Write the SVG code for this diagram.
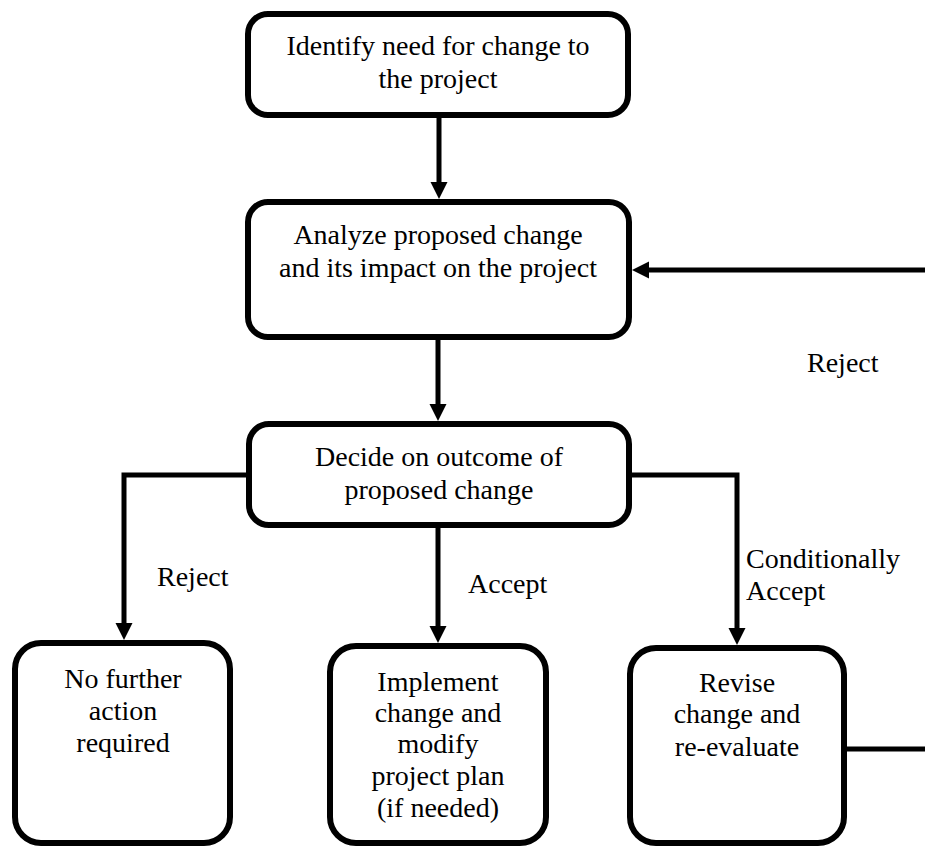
<svg xmlns="http://www.w3.org/2000/svg" width="925" height="847" viewBox="0 0 925 847">
  <style>
    .box { fill: #fff; stroke: #000; stroke-width: 6; }
    .lbl { font-family: "Liberation Serif", "Times New Roman", serif; font-size: 28px; fill: #000; }
    .mid { text-anchor: middle; }
    .wire { fill: none; stroke: #000; stroke-width: 5; }
  </style>
  <defs>
    <marker id="arrow" markerUnits="userSpaceOnUse" markerWidth="18" markerHeight="18" refX="9" refY="8.5" orient="auto">
      <path d="M0,0 L17,8.5 L0,17 z" fill="#000"/>
    </marker>
  </defs>
  <rect width="925" height="847" fill="#fff"/>

  <g id="connectors">
    <path class="wire" d="M439,118 V191" marker-end="url(#arrow)"/>
    <path class="wire" d="M438,340 V413" marker-end="url(#arrow)"/>
    <path class="wire" d="M246,475 H124 V632" marker-end="url(#arrow)"/>
    <path class="wire" d="M438,528 V635" marker-end="url(#arrow)"/>
    <path class="wire" d="M632,475 H737 V637" marker-end="url(#arrow)"/>
    <path class="wire" d="M847,749 H945 V270 H640" marker-end="url(#arrow)"/>
    <text class="lbl" x="157" y="586">Reject</text>
    <text class="lbl" x="468" y="593">Accept</text>
    <text class="lbl" x="746" y="568">Conditionally</text>
    <text class="lbl" x="746" y="600">Accept</text>
    <text class="lbl" x="807" y="372">Reject</text>
  </g>

  <g id="identify">
    <rect class="box" x="248" y="14" width="380" height="101" rx="20"/>
    <text class="lbl mid" x="438" y="55">Identify need for change to</text>
    <text class="lbl mid" x="438" y="88">the project</text>
  </g>

  <g id="analyze">
    <rect class="box" x="248" y="202" width="381" height="135" rx="20"/>
    <text class="lbl mid" x="438" y="244">Analyze proposed change</text>
    <text class="lbl mid" x="438" y="277">and its impact on the project</text>
  </g>

  <g id="decide">
    <rect class="box" x="249" y="424" width="380" height="101" rx="20"/>
    <text class="lbl mid" x="439" y="466">Decide on outcome of</text>
    <text class="lbl mid" x="439" y="499">proposed change</text>
  </g>

  <g id="no-action">
    <rect class="box" x="15" y="643" width="215" height="200" rx="26"/>
    <text class="lbl mid" x="123" y="688">No further</text>
    <text class="lbl mid" x="123" y="720">action</text>
    <text class="lbl mid" x="123" y="752">required</text>
  </g>

  <g id="implement">
    <rect class="box" x="330" y="646" width="216" height="197" rx="26"/>
    <text class="lbl mid" x="438" y="691">Implement</text>
    <text class="lbl mid" x="438" y="722">change and</text>
    <text class="lbl mid" x="438" y="753">modify</text>
    <text class="lbl mid" x="438" y="785">project plan</text>
    <text class="lbl mid" x="438" y="817">(if needed)</text>
  </g>

  <g id="revise">
    <rect class="box" x="630" y="648" width="214" height="195" rx="26"/>
    <text class="lbl mid" x="737" y="692">Revise</text>
    <text class="lbl mid" x="737" y="723">change and</text>
    <text class="lbl mid" x="737" y="756">re-evaluate</text>
  </g>
</svg>
